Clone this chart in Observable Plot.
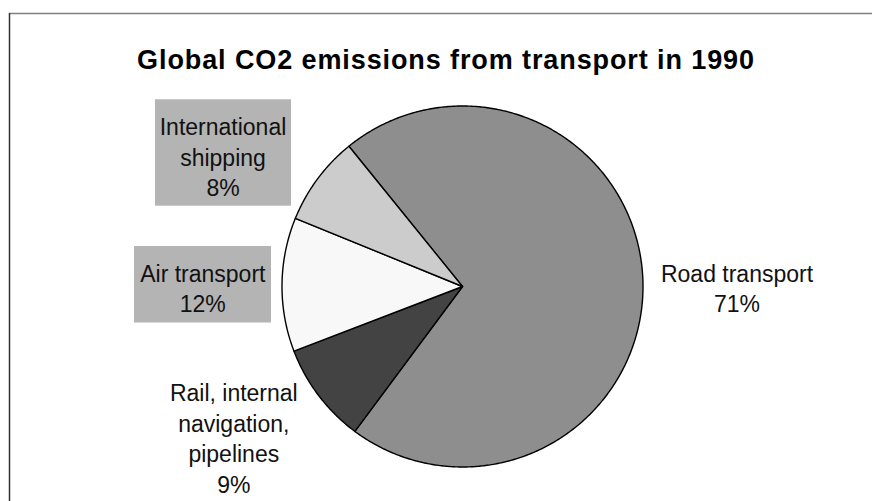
<!DOCTYPE html>
<html>
<head>
<meta charset="utf-8">
<script src="https://cdn.jsdelivr.net/npm/d3@7"></script>
<script src="https://cdn.jsdelivr.net/npm/@observablehq/plot@0.6"></script>
<style>
  html, body { margin: 0; padding: 0; background: #fff; }
  svg { display: block; font-family: "Liberation Sans", Arial, sans-serif; }
</style>
</head>
<body>
<div id="chart"></div>
<script>
// ---- data ----
const title = "Global CO2 emissions from transport in 1990";
const categories = ["Road transport", "Rail, internal navigation, pipelines", "Air transport", "International shipping"];
const values = [71, 9, 12, 8];
const labelText = ["Road transport", "Rail, internal\nnavigation,\npipelines", "Air transport", "International\nshipping"];
const sliceColors = ["#8e8e8e", "#434343", "#f8f8f8", "#cccccc"];

// ---- layout (pixels) ----
const W = 872, H = 501;
const cx = 462, cy = 286, r = 180.5;
const startDeg = -39;
const labelX = [736.5, 233.3, 202.3, 222.5];
const labelTop = [259.3, 378.6, 259.3, 112.6];
const boxes = [
  {x1: 155, x2: 291, y1: 99.3, y2: 205.7},
  {x1: 134, x2: 271, y1: 246, y2: 322.5}
];

// ---- pie geometry via d3.pie ----
const arcs = d3.pie().sort(null).startAngle(startDeg * Math.PI / 180)
  .endAngle(startDeg * Math.PI / 180 + 2 * Math.PI)(values);
const polys = [];
arcs.forEach((a, i) => {
  const name = categories[i];
  polys.push({name, x: cx, y: cy});
  const n = Math.max(2, Math.ceil((a.endAngle - a.startAngle) / (Math.PI / 360)));
  for (let k = 0; k <= n; k++) {
    const t = a.startAngle + (a.endAngle - a.startAngle) * k / n;
    polys.push({name, x: cx + r * Math.sin(t), y: cy - r * Math.cos(t)});
  }
});

const labels = categories.map((c, i) => ({
  text: `${labelText[i]}\n${values[i]}%`,
  x: labelX[i], y: labelTop[i]
}));

const plot = Plot.plot({
  width: W, height: H,
  margin: 0,
  x: {type: "linear", domain: [0, W], range: [0, W], axis: null},
  y: {type: "linear", domain: [0, H], range: [0, H], axis: null},
  color: {domain: categories, range: sliceColors},
  style: {fontFamily: "'Liberation Sans', Arial, sans-serif", background: "#fff"},
  marks: [
    Plot.ruleY([13], {x1: 9, x2: W, stroke: "#808080", strokeWidth: 1.5}),
    Plot.ruleX([9], {y1: 13, y2: H, stroke: "#333333", strokeWidth: 1.5}),
    Plot.line(polys, {x: "x", y: "y", z: "name", fill: "name", stroke: "#000", strokeWidth: 1.4, curve: "linear-closed", strokeLinejoin: "round"}),
    Plot.rect(boxes, {x1: "x1", x2: "x2", y1: "y1", y2: "y2", fill: "#b4b4b4"}),
    Plot.text(labels, {x: "x", y: "y", text: "text", fontSize: 23, lineHeight: 1.335, lineAnchor: "top", textAnchor: "middle", fill: "#111"}),
    Plot.text([title], {x: [445.5], y: [49], text: d => d, fontSize: 27, fontWeight: "bold", lineAnchor: "top", textAnchor: "middle", fill: "#000"})
  ]
});
d3.select(plot).selectAll("text").filter(function () { return this.textContent === title; })
  .style("letter-spacing", "0.9px");
document.getElementById("chart").appendChild(plot);
</script>
</body>
</html>
